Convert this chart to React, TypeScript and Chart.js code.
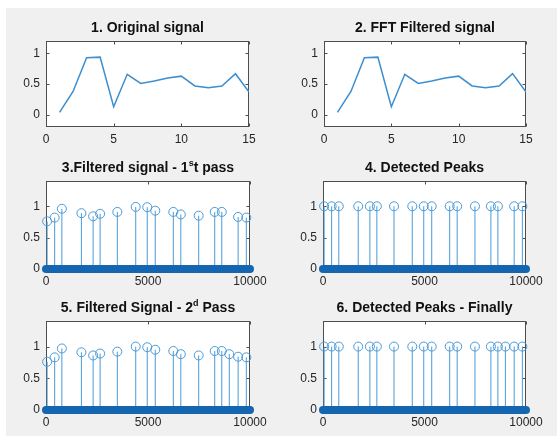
import React, { useEffect, useRef } from 'react';
import { Chart, registerables } from 'chart.js';

Chart.register(...registerables);

// ---------- data ----------
const signalX = [1, 2, 3, 4, 5, 6, 7, 8, 9, 10, 11, 12, 13, 14, 15];
const originalSignal = [0.04, 0.38, 0.93, 0.94, 0.13, 0.66, 0.51, 0.55, 0.6, 0.63, 0.47, 0.44, 0.47, 0.67, 0.37];
const fftFilteredSignal = [0.04, 0.38, 0.93, 0.94, 0.13, 0.66, 0.51, 0.55, 0.6, 0.63, 0.47, 0.44, 0.47, 0.67, 0.37];

const signalTicks = [0, 5, 10, 15];
const sampleTicks = [0, 5000, 10000];
const amplitudeTicks = [0, 0.5, 1];
const signalRange = [0, 15];
const sampleRange = [0, 10000];
const signalAmpRange = [-0.2, 1.2];
const peakAmpRange = [0, 1.4];

const pass1Locations = [55, 425, 778, 1736, 2310, 2653, 3497, 4398, 4963, 5356, 6241, 6609, 7485, 8271, 8616, 9418, 9820];
const pass1Values = [0.76, 0.82, 0.96, 0.89, 0.84, 0.88, 0.91, 0.99, 0.985, 0.93, 0.91, 0.87, 0.85, 0.91, 0.91, 0.83, 0.82];
const detected1Values = [1, 1, 1, 1, 1, 1, 1, 1, 1, 1, 1, 1, 1, 1, 1, 1, 1];

const pass2Locations = [55, 425, 778, 1736, 2310, 2653, 3497, 4398, 4963, 5356, 6241, 6609, 7485, 8271, 8616, 8985, 9418, 9820];
const pass2Values = [0.76, 0.83, 0.97, 0.91, 0.86, 0.89, 0.92, 1.0, 0.99, 0.95, 0.93, 0.88, 0.86, 0.93, 0.93, 0.88, 0.84, 0.83];
const detected2Values = [1, 1, 1, 1, 1, 1, 1, 1, 1, 1, 1, 1, 1, 1, 1, 1, 1, 1];

// ---------- styles ----------
const FONT = '"Liberation Sans", Arial, Helvetica, sans-serif';
const LINE_COLOR = '#3b8ed0';
const STEM_COLOR = '#4a9bd8';
const BAND_COLOR = '#1566b0';
const AXIS_COLOR = '#4d4d4d';
const LABEL_COLOR = '#262626';

const PAD_L = 40;
const PAD_T = 10;
const PAD_R = 30;
const PAD_B = 22;

type PanelSpec = {
  key: string;
  title: React.ReactNode;
  left: number;
  top: number;
  width: number;
  height: number;
  kind: 'line' | 'stem';
  xs: number[];
  ys: number[];
  xTicks: number[];
  xRange: number[];
  yRange: number[];
};

const panels: PanelSpec[] = [
  { key: 'p1', title: '1. Original signal', left: 46, top: 38, width: 203, height: 89, kind: 'line', xs: signalX, ys: originalSignal, xTicks: signalTicks, xRange: signalRange, yRange: signalAmpRange },
  { key: 'p2', title: '2. FFT Filtered signal', left: 324, top: 38, width: 202, height: 89, kind: 'line', xs: signalX, ys: fftFilteredSignal, xTicks: signalTicks, xRange: signalRange, yRange: signalAmpRange },
  { key: 'p3', title: <>3.Filtered signal - 1<sup style={{ fontSize: '9px', lineHeight: 0 }}>s</sup>t pass</>, left: 46, top: 178, width: 204, height: 91, kind: 'stem', xs: pass1Locations, ys: pass1Values, xTicks: sampleTicks, xRange: sampleRange, yRange: peakAmpRange },
  { key: 'p4', title: '4. Detected Peaks', left: 323, top: 178, width: 203, height: 91, kind: 'stem', xs: pass1Locations, ys: detected1Values, xTicks: sampleTicks, xRange: sampleRange, yRange: peakAmpRange },
  { key: 'p5', title: <>5. Filtered Signal - 2<sup style={{ fontSize: '9px', lineHeight: 0 }}>d</sup> Pass</>, left: 46, top: 318, width: 204, height: 92, kind: 'stem', xs: pass2Locations, ys: pass2Values, xTicks: sampleTicks, xRange: sampleRange, yRange: peakAmpRange },
  { key: 'p6', title: '6. Detected Peaks - Finally', left: 323, top: 318, width: 203, height: 92, kind: 'stem', xs: pass2Locations, ys: detected2Values, xTicks: sampleTicks, xRange: sampleRange, yRange: peakAmpRange },
];

const matlabBox = {
  id: 'matlabBox',
  beforeDatasetsDraw(chart: any) {
    const { ctx, chartArea: a, scales } = chart;
    const l = Math.round(a.left) + 0.5;
    const r = Math.round(a.right) - 0.5;
    const t = Math.round(a.top) + 0.5;
    const b = Math.round(a.bottom) - 0.5;
    ctx.save();
    ctx.fillStyle = '#ffffff';
    ctx.fillRect(a.left, a.top, a.right - a.left, a.bottom - a.top);
    ctx.strokeStyle = AXIS_COLOR;
    ctx.lineWidth = 1;
    ctx.strokeRect(l, t, r - l, b - t);
    ctx.beginPath();
    for (const tk of scales.x.ticks) {
      const x = Math.round(scales.x.getPixelForValue(tk.value)) + 0.5;
      ctx.moveTo(x, b);
      ctx.lineTo(x, b - 3);
      ctx.moveTo(x, t);
      ctx.lineTo(x, t + 3);
    }
    for (const tk of scales.y.ticks) {
      const y = Math.round(scales.y.getPixelForValue(tk.value)) + 0.5;
      ctx.moveTo(l, y);
      ctx.lineTo(l + 3, y);
      ctx.moveTo(r, y);
      ctx.lineTo(r - 3, y);
    }
    ctx.stroke();
    ctx.restore();
  },
};

function buildConfig(p: PanelSpec): any {
  let datasets: any[];
  if (p.kind === 'line') {
    datasets = [
      {
        type: 'line',
        data: p.xs.map((x, i) => ({ x, y: p.ys[i] })),
        borderColor: LINE_COLOR,
        borderWidth: 1.5,
        pointRadius: 0,
        tension: 0,
        fill: false,
      },
    ];
  } else {
    const stems: any[] = [];
    p.xs.forEach((x, i) => {
      stems.push({ x, y: 0 }, { x, y: p.ys[i] }, { x, y: NaN });
    });
    datasets = [
      {
        type: 'line',
        data: [
          { x: p.xRange[0], y: 0 },
          { x: p.xRange[1], y: 0 },
        ],
        borderColor: BAND_COLOR,
        borderWidth: 8,
        borderCapStyle: 'round',
        pointRadius: 0,
        clip: false,
        fill: false,
      },
      {
        type: 'scatter',
        data: p.xs.map((x, i) => ({ x, y: p.ys[i] })),
        pointRadius: 4.5,
        pointBorderWidth: 1,
        pointBackgroundColor: 'rgba(0,0,0,0)',
        pointBorderColor: STEM_COLOR,
        showLine: false,
        clip: false,
      },
      {
        type: 'line',
        data: stems,
        borderColor: STEM_COLOR,
        borderWidth: 1,
        pointRadius: 0,
        spanGaps: false,
        fill: false,
      },
    ];
  }
  const tickFont = { family: FONT, size: 12 };
  return {
    type: 'scatter',
    data: { datasets },
    plugins: [matlabBox],
    options: {
      responsive: false,
      animation: false,
      events: [],
      layout: { padding: { left: 0, top: PAD_T, right: PAD_R, bottom: 0 } },
      plugins: { legend: { display: false }, tooltip: { enabled: false }, title: { display: false } },
      scales: {
        x: {
          type: 'linear',
          min: p.xRange[0],
          max: p.xRange[1],
          afterBuildTicks: (ax: any) => {
            ax.ticks = p.xTicks.map((v) => ({ value: v }));
          },
          afterFit: (ax: any) => {
            ax.height = PAD_B;
          },
          ticks: { callback: (v: any) => String(v), font: tickFont, color: LABEL_COLOR, padding: 5, maxRotation: 0, autoSkip: false },
          grid: { display: false, drawTicks: false },
          border: { display: false },
        },
        y: {
          type: 'linear',
          min: p.yRange[0],
          max: p.yRange[1],
          afterBuildTicks: (ax: any) => {
            ax.ticks = amplitudeTicks.map((v) => ({ value: v }));
          },
          afterFit: (ax: any) => {
            ax.width = PAD_L;
          },
          ticks: { callback: (v: any) => String(v), font: tickFont, color: LABEL_COLOR, padding: 6, autoSkip: false },
          grid: { display: false, drawTicks: false },
          border: { display: false },
        },
      },
    },
  };
}

function Panel({ p }: { p: PanelSpec }) {
  const ref = useRef<HTMLCanvasElement | null>(null);
  useEffect(() => {
    if (!ref.current) return;
    const chart = new Chart(ref.current, buildConfig(p));
    return () => chart.destroy();
  }, [p]);
  const w = p.width + PAD_L + PAD_R;
  const h = p.height + PAD_T + PAD_B;
  return (
    <canvas
      ref={ref}
      width={w}
      height={h}
      style={{ position: 'absolute', left: p.left - PAD_L, top: p.top - PAD_T, width: w, height: h }}
    />
  );
}

export default function App() {
  return (
    <div style={{ position: 'fixed', left: 0, top: 0, width: 557, height: 436, background: '#ffffff', overflow: 'hidden' }}>
      <div style={{ position: 'absolute', left: 6, top: 8, right: 0, bottom: 0, background: '#f0f0f0' }} />
      {panels.map((p) => (
        <Panel key={p.key} p={p} />
      ))}
      {panels.map((p) => (
        <div
          key={p.key + '-t'}
          style={{
            position: 'absolute',
            left: p.left - 30,
            width: p.width + 60,
            top: p.top - 19,
            height: 16,
            lineHeight: '16px',
            textAlign: 'center',
            fontFamily: FONT,
            fontWeight: 'bold',
            fontSize: 14,
            color: '#111111',
            whiteSpace: 'nowrap',
          }}
        >
          {p.title}
        </div>
      ))}
    </div>
  );
}
